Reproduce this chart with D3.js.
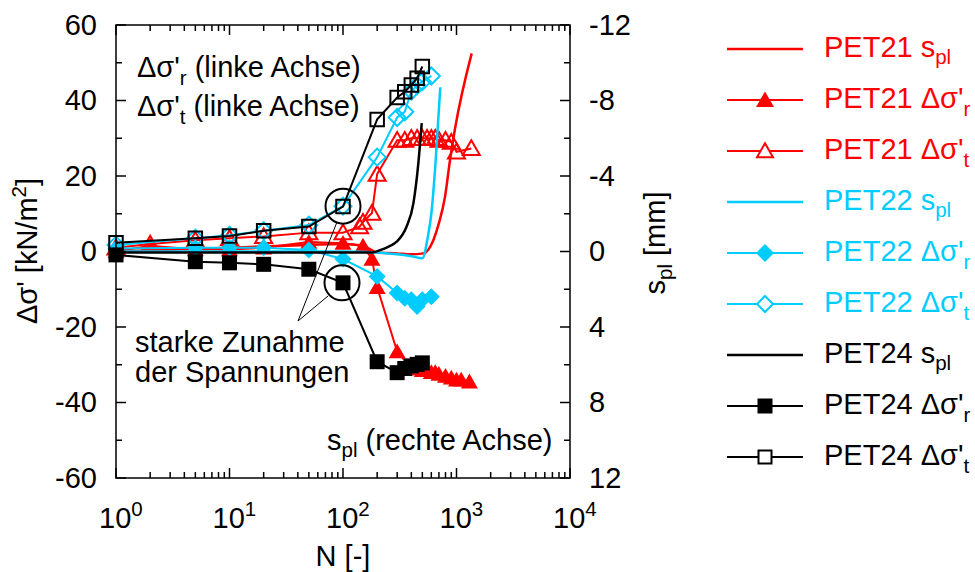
<!DOCTYPE html>
<html><head><meta charset="utf-8">
<script src="https://cdn.jsdelivr.net/npm/d3@7"></script>
<style>body{margin:0;background:#fff} text{font-family:"Liberation Sans",Arial,sans-serif}</style>
</head><body><svg id="c" width="975" height="572"></svg>
<script>
// ---------- DATA ----------
// PET21
const pet21_s_N  = [1, 10, 50, 100, 150, 200, 300, 400, 510, 625, 700, 792, 877, 970, 1361];
const pet21_s_v  = [0, -0.2, -0.35, -0.4, -0.3, 0.05, 0.1, 0.15, 0.1, -0.6, -1.5, -2.9, -4.85, -6.5, -10.5];
const pet21_r_N  = [1, 2, 5, 10, 20, 50, 100, 150, 180, 200, 300, 400, 450, 500, 550, 600, 650, 700, 800, 900, 1000, 1100, 1300];
const pet21_r_v  = [0, 1.5, 0.5, 0.5, 1, 2.5, 2.2, 1.5, -2, -9.5, -26.5, -31, -31, -31.5, -31.5, -32, -32, -32.5, -33, -33.5, -34, -34, -34.5];
const pet21_t_N  = [1, 2, 5, 10, 20, 50, 100, 140, 150, 180, 200, 300, 350, 400, 450, 500, 550, 600, 650, 700, 800, 900, 1000, 1350];
const pet21_t_v  = [1, 2, 3, 3.5, 4, 5, 5, 6.6, 7.8, 10.2, 20.5, 29.5, 29.5, 30, 30, 30, 30, 30, 30, 29.5, 29.5, 29, 26.4, 27.3];
// PET22
const pet22_s_N  = [1, 10, 100, 200, 300, 400, 500, 560, 600, 650, 720];
const pet22_s_v  = [0, 0, 0, 0.05, 0.15, 0.25, 0.36, -0.8, -2.0, -4.5, -8.7];
const pet22_r_N  = [1, 5, 10, 20, 50, 100, 200, 300, 350, 400, 450, 500, 600];
const pet22_r_v  = [0.8, 1, 1, 1, 0.4, -2, -6.6, -11, -12.4, -12.8, -14.6, -12.8, -12];
const pet22_t_N  = [1, 5, 10, 20, 50, 100, 200, 300, 350, 400, 450, 500, 600];
const pet22_t_v  = [1.7, 3.5, 4.3, 5.5, 7, 12, 25, 35.5, 37, 42.5, 44, 45, 46.5];
// PET24
const pet24_s_N  = [1, 10, 100, 180, 212, 250, 297, 362, 417, 461, 494];
const pet24_s_v  = [0.05, 0.05, 0.05, 0.05, -0.07, -0.25, -0.52, -1.3, -2.55, -4.67, -6.8];
const pet24_r_N  = [1, 5, 10, 20, 50, 100, 200, 300, 350, 400, 450, 500];
const pet24_r_v  = [-0.9, -2.7, -3, -3.4, -4.7, -8.3, -29.2, -32.1, -31, -30.3, -29.9, -29.5];
const pet24_t_N  = [1, 5, 10, 20, 50, 100, 200, 300, 350, 400, 450, 500];
const pet24_t_v  = [2.3, 3.5, 4.1, 5.5, 6.6, 11.9, 35, 40.8, 42.3, 44.1, 45.9, 49];

const xDecades   = [1, 10, 100, 1000, 10000];
const xExponents = ["0", "1", "2", "3", "4"];
const yLeftTicks = [-60, -40, -20, 0, 20, 40, 60];
const yRightTicks = [-12, -8, -4, 0, 4, 8, 12];

const RED = "#ff0000", CYAN = "#00ccff", BLACK = "#000000";
const FS = 29, FSS = 20.5;

// ---------- SETUP ----------
const svg = d3.select("#c");
const x = d3.scaleLog().domain([1, 1e4]).range([116, 570]);
const y = d3.scaleLinear().domain([-60, 60]).range([478, 25]);
const yR = d3.scaleLinear().domain([12, -12]).range([478, 25]);
const L = 116, R = 570, T = 25, B = 478;

function zip(a, b) { return a.map((d, i) => [d, b[i]]); }

function markerPath(type, s) {
  const h = s / 2;
  if (type === "square") return `M${-h},${-h}H${h}V${h}H${-h}Z`;
  if (type === "diamond") return `M0,${-h}L${h},0L0,${h}L${-h},0Z`;
  if (type === "triangle") { const th = s * 0.87; return `M0,${-th*0.55}L${h},${th*0.45}L${-h},${th*0.45}Z`; }
}

const series = [
  { color: RED,   s: zip(pet21_s_N, pet21_s_v), r: zip(pet21_r_N, pet21_r_v), t: zip(pet21_t_N, pet21_t_v), shape: "triangle", name: "PET21", size: 17 },
  { color: CYAN,  s: zip(pet22_s_N, pet22_s_v), r: zip(pet22_r_N, pet22_r_v), t: zip(pet22_t_N, pet22_t_v), shape: "diamond",  name: "PET22", size: 17 },
  { color: BLACK, s: zip(pet24_s_N, pet24_s_v), r: zip(pet24_r_N, pet24_r_v), t: zip(pet24_t_N, pet24_t_v), shape: "square",   name: "PET24", size: 13.5 }
];

const plot = svg.append("g");
const lineL = d3.line().x(d => x(d[0])).y(d => y(d[1]));
const lineR = d3.line().x(d => x(d[0])).y(d => yR(d[1])).curve(d3.curveMonotoneX);

series.forEach(se => {
  plot.append("path").attr("d", lineR(se.s)).attr("fill", "none").attr("stroke", se.color).attr("stroke-width", 2.5);
  plot.append("path").attr("d", lineL(se.r)).attr("fill", "none").attr("stroke", se.color).attr("stroke-width", 2);
  plot.selectAll(null).data(se.r).enter().append("path")
    .attr("d", markerPath(se.shape, se.shape === "square" ? 15 : se.size))
    .attr("transform", d => `translate(${x(d[0])},${y(d[1])})`)
    .attr("fill", se.color).attr("stroke", "none");
  plot.append("path").attr("d", lineL(se.t)).attr("fill", "none").attr("stroke", se.color).attr("stroke-width", 2);
  plot.selectAll(null).data(se.t).enter().append("path")
    .attr("d", markerPath(se.shape, se.size))
    .attr("transform", d => `translate(${x(d[0])},${y(d[1])})`)
    .attr("fill", "none").attr("stroke", se.color).attr("stroke-width", 2);
});

// ---------- FRAME & TICKS ----------
const ax = svg.append("g").attr("stroke", "#000").attr("stroke-width", 1.5);
ax.append("rect").attr("x", L).attr("y", T).attr("width", R - L).attr("height", B - T).attr("fill", "none");
x.ticks().forEach(t => {
  const len = xDecades.includes(t) ? 10 : 6;
  ax.append("line").attr("x1", x(t)).attr("x2", x(t)).attr("y1", B).attr("y2", B - len);
  ax.append("line").attr("x1", x(t)).attr("x2", x(t)).attr("y1", T).attr("y2", T + len);
});
d3.range(-60, 61, 10).forEach(v => {
  const len = v % 20 === 0 ? 10 : 6;
  ax.append("line").attr("x1", L).attr("x2", L + len).attr("y1", y(v)).attr("y2", y(v));
  ax.append("line").attr("x1", R).attr("x2", R - len).attr("y1", y(v)).attr("y2", y(v));
});

const leftAxis = svg.append("g").attr("transform", `translate(${L},0)`)
  .call(d3.axisLeft(y).tickValues(yLeftTicks).tickSize(0).tickPadding(19).tickFormat(d => String(d)));
const rightAxis = svg.append("g").attr("transform", `translate(${R},0)`)
  .call(d3.axisRight(yR).tickValues(yRightTicks).tickSize(0).tickPadding(19).tickFormat(d => String(d)));
[leftAxis, rightAxis].forEach(g => {
  g.select(".domain").remove();
  g.selectAll("text").attr("font-size", FS).attr("fill", "#000").attr("font-family", '"Liberation Sans",Arial,sans-serif');
});

xDecades.forEach((d, i) => {
  const t = svg.append("text").attr("x", x(d) - 17).attr("y", 528).attr("font-size", FS);
  t.append("tspan").text("10");
  t.append("tspan").attr("dy", -12).attr("font-size", FSS).text(xExponents[i]);
});

svg.append("text").attr("x", 343).attr("y", 566).attr("text-anchor", "middle").attr("font-size", FS).text("N [-]");
const yl = svg.append("text").attr("transform", "translate(37,251) rotate(-90)").attr("text-anchor", "middle").attr("font-size", FS);
yl.append("tspan").text("Δσ' [kN/m");
yl.append("tspan").attr("dy", -11).attr("font-size", FSS).text("2");
yl.append("tspan").attr("dy", 11).text("]");
const yr = svg.append("text").attr("transform", "translate(665,243) rotate(-90)").attr("text-anchor", "middle").attr("font-size", FS);
yr.append("tspan").text("s");
yr.append("tspan").attr("dy", 7).attr("font-size", FSS).text("pl");
yr.append("tspan").attr("dy", -7).text(" [mm]");

// ---------- ANNOTATIONS ----------
function dsig(g, xx, yy, sub, rest, color) {
  const t = g.append("text").attr("x", xx).attr("y", yy).attr("font-size", FS).attr("fill", color || "#000");
  t.append("tspan").text("Δσ'");
  t.append("tspan").attr("dy", 8).attr("font-size", FSS).text(sub);
  t.append("tspan").attr("dy", -8).text(rest);
  return t;
}
dsig(svg, 137, 77, "r", " (linke Achse)");
dsig(svg, 137, 116, "t", " (linke Achse)");
svg.append("text").attr("x", 135).attr("y", 352).attr("font-size", FS).text("starke Zunahme");
svg.append("text").attr("x", 135).attr("y", 382).attr("font-size", FS).text("der Spannungen");
const sp = svg.append("text").attr("x", 327).attr("y", 450).attr("font-size", FS);
sp.append("tspan").text("s");
sp.append("tspan").attr("dy", 7).attr("font-size", FSS).text("pl");
sp.append("tspan").attr("dy", -7).text(" (rechte Achse)");

const ann = svg.append("g").attr("stroke", "#000").attr("fill", "none");
ann.append("circle").attr("cx", x(100)).attr("cy", y(12)).attr("r", 17.5).attr("stroke-width", 2);
ann.append("circle").attr("cx", x(100) - 1).attr("cy", y(-8.3)).attr("r", 17.5).attr("stroke-width", 2);
ann.append("line").attr("x1", 298).attr("y1", 321).attr("x2", 337).attr("y2", 222).attr("stroke-width", 1);
ann.append("line").attr("x1", 298).attr("y1", 321).attr("x2", 328).attr("y2", 296).attr("stroke-width", 1);

// ---------- LEGEND ----------
const leg = svg.append("g");
let row = 0;
series.forEach(se => {
  ["s", "r", "t"].forEach(k => {
    const yy = 49 + 51 * row;
    leg.append("line").attr("x1", 727).attr("x2", 803).attr("y1", yy).attr("y2", yy)
      .attr("stroke", se.color).attr("stroke-width", k === "s" ? 2.5 : 2);
    if (k === "r") leg.append("path").attr("d", markerPath(se.shape, se.shape === "square" ? 15 : 18))
      .attr("transform", `translate(765,${yy})`).attr("fill", se.color);
    if (k === "t") leg.append("path").attr("d", markerPath(se.shape, se.shape === "square" ? 13 : 16))
      .attr("transform", `translate(765,${yy})`).attr("fill", "#fff").attr("stroke", se.color).attr("stroke-width", 2);
    if (k === "s") {
      const t = leg.append("text").attr("x", 824).attr("y", yy + 8).attr("font-size", FS).attr("fill", se.color);
      t.append("tspan").text(se.name + " s");
      t.append("tspan").attr("dy", 7).attr("font-size", FSS).text("pl");
    } else {
      dsig(leg, 824, yy + 8, k, "", se.color).select("tspan").text(se.name + " Δσ'");
    }
    row++;
  });
});
</script></body></html>
